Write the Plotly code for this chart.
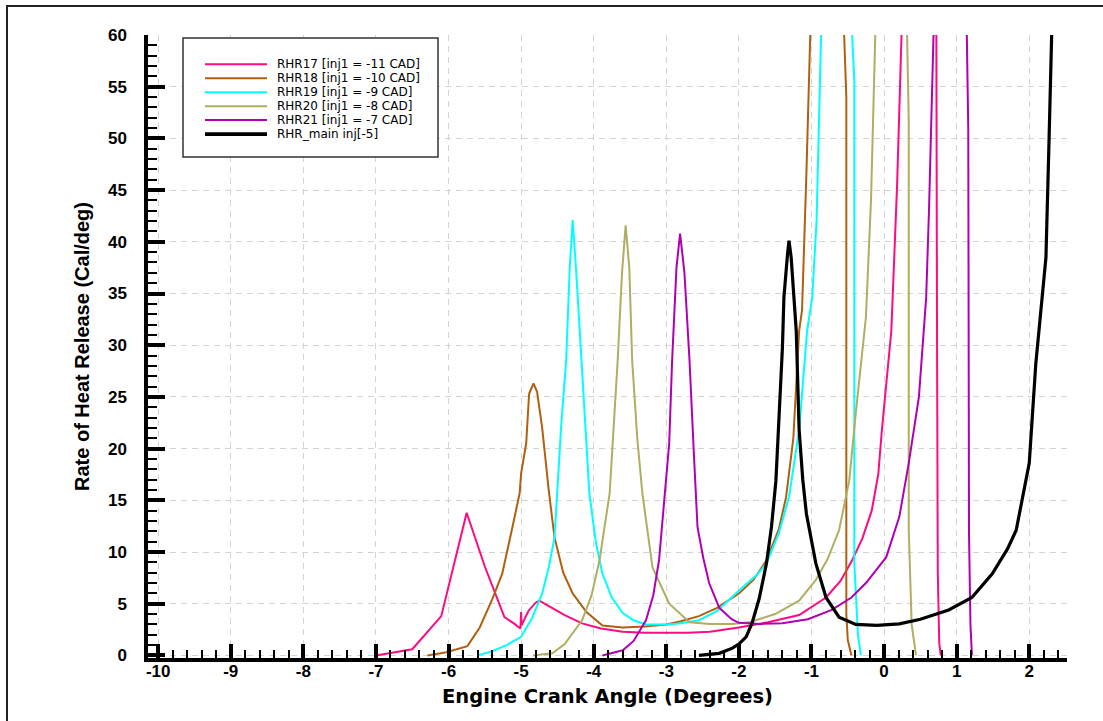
import plotly.graph_objects as go

# Rate of heat release vs crank angle for pilot-injection timing sweep
names = [
    "RHR17 [inj1 = -11 CAD]",
    "RHR18 [inj1 = -10 CAD]",
    "RHR19 [inj1 = -9 CAD]",
    "RHR20 [inj1 = -8 CAD]",
    "RHR21 [inj1 = -7 CAD]",
    "RHR_main inj[-5]",
]
colors = ["#FF0A80", "#B0600F", "#00FFFF", "#B0AE62", "#B000B4", "#000000"]
widths = [2, 2, 2, 2, 2, 3.2]

rhr17_x = [-7.0, -6.5, -6.1, -5.92, -5.75, -5.5, -5.23, -5.1, -5.01, -5.0, -4.995, -4.9, -4.8,
           -4.75, -4.58, -4.4, -4.16, -3.9, -3.6, -3.3, -3.0, -2.7, -2.4, -2.0, -1.6, -1.17,
           -0.8, -0.6, -0.44, -0.3, -0.17, -0.08, -0.03, 0.03, 0.1, 0.18, 0.23, 0.26, 0.45,
           0.69, 0.72, 0.73, 0.74, 0.76, 0.78]
rhr17_y = [0.0, 0.6, 3.8, 9.0, 13.8, 8.6, 3.7, 3.1, 2.6, 4.2, 2.9, 4.3, 5.1,
           5.3, 4.6, 3.9, 3.1, 2.6, 2.3, 2.2, 2.2, 2.2, 2.3, 2.7, 3.2, 3.9,
           5.6, 7.2, 9.2, 11.3, 14.0, 17.5, 21.8, 26.0, 31.4, 45.6, 60.0, 70.0, 110.0,
           70.0, 60.0, 30.0, 8.0, 1.2, 0.0]

rhr18_x = [-6.29, -6.03, -5.74, -5.57, -5.4, -5.26, -5.12, -5.02, -5.0, -4.93, -4.89, -4.83,
           -4.78, -4.71, -4.62, -4.54, -4.42, -4.29, -4.1, -3.88, -3.6, -3.3, -3.0, -2.8,
           -2.55, -2.3, -2.0, -1.8, -1.62, -1.45, -1.35, -1.25, -1.17, -1.13, -1.07, -1.02,
           -1.0, -0.78, -0.56, -0.55, -0.52, -0.52, -0.5, -0.45]
rhr18_y = [0.0, 0.3, 0.9, 2.7, 5.4, 7.9, 12.4, 15.7, 17.6, 20.5, 25.3, 26.3,
           25.5, 22.0, 16.0, 11.4, 8.0, 6.0, 4.2, 2.9, 2.7, 2.8, 3.0, 3.3,
           3.8, 4.6, 6.0, 7.3, 9.2, 12.2, 15.3, 21.0, 31.4, 33.4, 46.6, 60.0,
           66.0, 120.0, 66.0, 60.0, 54.0, 4.0, 1.5, 0.0]

rhr19_x = [-5.6, -5.4, -5.2, -5.0, -4.85, -4.71, -4.62, -4.54, -4.45, -4.38, -4.33, -4.29,
           -4.24, -4.17, -4.11, -4.06, -3.97, -3.88, -3.75, -3.6, -3.45, -3.28, -3.0, -2.8,
           -2.55, -2.3, -1.95, -1.75, -1.62, -1.45, -1.31, -1.17, -1.06, -0.99, -0.93, -0.89,
           -0.88, -0.86, -0.66, -0.46, -0.44, -0.41, -0.41, -0.36, -0.32]
rhr19_y = [0.0, 0.4, 1.0, 1.8, 3.6, 6.0, 8.5, 11.4, 22.0, 28.5, 37.5, 42.1,
           37.0, 28.5, 21.0, 15.7, 10.9, 7.9, 5.6, 4.1, 3.4, 3.0, 3.0, 3.1,
           3.4, 4.3, 6.6, 7.8, 8.9, 11.8, 15.3, 21.8, 31.4, 34.6, 42.0, 55.6,
           60.0, 66.0, 120.0, 66.0, 60.0, 55.6, 8.9, 2.0, 0.0]

rhr20_x = [-4.84, -4.57, -4.4, -4.16, -4.03, -3.92, -3.78, -3.67, -3.61, -3.56, -3.51, -3.47,
           -3.4, -3.33, -3.19, -2.96, -2.68, -2.4, -2.1, -1.86, -1.5, -1.17, -0.94, -0.78,
           -0.62, -0.48, -0.39, -0.3, -0.25, -0.18, -0.14, -0.12, 0.1, 0.3, 0.32, 0.34,
           0.34, 0.38, 0.44]
rhr20_y = [0.0, 0.2, 1.1, 3.4, 5.8, 9.2, 15.7, 28.5, 37.0, 41.6, 37.5, 28.5,
           21.0, 15.7, 8.5, 5.0, 3.2, 3.05, 3.05, 3.2, 4.0, 5.3, 7.3, 9.3,
           12.1, 16.9, 23.4, 29.8, 32.7, 44.0, 60.0, 66.0, 120.0, 66.0, 60.0, 51.7,
           12.1, 3.0, 0.0]

rhr21_x = [-3.88, -3.6, -3.45, -3.28, -3.18, -3.1, -2.96, -2.92, -2.86, -2.81, -2.75, -2.68,
           -2.62, -2.57, -2.49, -2.41, -2.27, -2.1, -2.0, -1.7, -1.4, -1.05, -0.72, -0.45,
           -0.25, 0.03, 0.21, 0.34, 0.48, 0.55, 0.58, 0.62, 0.66, 0.69, 0.71, 0.9,
           1.12, 1.14, 1.16, 1.17, 1.19, 1.21]
rhr21_y = [0.0, 0.5, 1.4, 3.4, 5.8, 9.2, 20.5, 28.5, 37.5, 40.8, 37.0, 28.5,
           19.5, 12.4, 9.4, 7.0, 4.6, 3.5, 3.15, 3.05, 3.1, 3.5, 4.4, 5.6,
           7.0, 9.5, 13.4, 18.6, 25.0, 31.4, 34.6, 43.3, 52.0, 60.0, 66.0, 120.0,
           66.0, 60.0, 50.8, 11.8, 3.0, 0.0]

main_x = [-2.55, -2.27, -2.09, -2.0, -1.9, -1.82, -1.72, -1.62, -1.55, -1.49, -1.4, -1.38,
          -1.33, -1.31, -1.28, -1.26, -1.24, -1.21, -1.17, -1.12, -1.07, -0.94, -0.8, -0.62,
          -0.39, -0.1, 0.21, 0.5, 0.89, 1.21, 1.49, 1.7, 1.82, 2.0, 2.09, 2.16,
          2.23, 2.27, 2.31, 2.33]
main_y = [0.0, 0.2, 0.7, 1.1, 1.8, 3.1, 5.5, 8.9, 12.5, 16.9, 29.8, 34.6,
          38.8, 40.1, 38.5, 36.3, 33.7, 31.4, 21.8, 17.0, 13.7, 8.9, 5.6, 3.7,
          3.0, 2.9, 3.05, 3.5, 4.4, 5.6, 7.9, 10.3, 12.1, 18.6, 28.2, 33.0,
          38.5, 49.1, 60.0, 66.0]

series_x = [rhr17_x, rhr18_x, rhr19_x, rhr20_x, rhr21_x, main_x]
series_y = [rhr17_y, rhr18_y, rhr19_y, rhr20_y, rhr21_y, main_y]

x_ticks = list(range(-10, 3))
y_ticks = list(range(0, 61, 5))

# plot-area geometry in pixels
W, H = 1103, 721
L, R, T, B = 148, 36, 35, 63
PW, PH = W - L - R, H - T - B


def px(x):
    return (x - L) / PW


def py(y):
    return (H - B - y) / PH


fig = go.Figure()
for xs, ys, name, c, w in zip(series_x, series_y, names, colors, widths):
    fig.add_trace(go.Scatter(x=xs, y=ys, mode="lines", name=name,
                             line=dict(color=c, width=w), showlegend=False))

tick_font = dict(family="Liberation Sans", size=17, color="black", weight="bold")

fig.update_layout(
    width=W, height=H,
    margin=dict(l=L, r=R, t=T, b=B),
    paper_bgcolor="white", plot_bgcolor="white",
    xaxis=dict(
        range=[-10.14, 2.52], tickmode="array", tickvals=x_ticks,
        ticktext=[str(v) for v in x_ticks],
        ticks="inside", ticklen=14, tickwidth=3.5, tickcolor="black",
        showline=True, linewidth=3.5, linecolor="black",
        showgrid=True, gridcolor="#d4d4d4", gridwidth=1, griddash="6px,5px",
        zeroline=False, tickfont=tick_font, ticklabelstandoff=-5,
        minor=dict(dtick=0.2, tick0=0, ticks="inside", ticklen=8, tickwidth=1.5,
                   tickcolor="black", showgrid=False),
        title=dict(text="Engine Crank Angle (Degrees)", standoff=10,
                   font=dict(family="DejaVu Sans", size=19.5, color="black", weight="bold")),
    ),
    yaxis=dict(
        range=[-0.25, 60], tickmode="array", tickvals=y_ticks,
        ticktext=[str(v) for v in y_ticks],
        ticks="inside", ticklen=17, tickwidth=3.5, tickcolor="black",
        showline=True, linewidth=3.5, linecolor="black",
        showgrid=True, gridcolor="#d4d4d4", gridwidth=1, griddash="6px,5px",
        zeroline=False, tickfont=tick_font, ticklabelstandoff=14,
        minor=dict(dtick=1, tick0=0, ticks="inside", ticklen=9, tickwidth=1.5,
                   tickcolor="black", showgrid=False),
        title=dict(text="Rate of Heat Release (Cal/deg)", standoff=14,
                   font=dict(family="Liberation Sans", size=20, color="black", weight="bold")),
    ),
)

# outer frame (top and left edges visible)
fig.add_shape(type="rect", xref="paper", yref="paper",
              x0=px(7), x1=px(W + 20), y0=py(H + 20), y1=py(6),
              line=dict(color="#222222", width=2), fillcolor="rgba(0,0,0,0)", layer="above")

# legend box
fig.add_shape(type="rect", xref="paper", yref="paper",
              x0=px(183), x1=px(438), y0=py(157), y1=py(38),
              line=dict(color="#333333", width=1.5), fillcolor="white", layer="above")
row0, row_step = 64.3, 13.95
for i, (name, c, w) in enumerate(zip(names, colors, widths)):
    yy = py(row0 + i * row_step)
    fig.add_shape(type="line", xref="paper", yref="paper",
                  x0=px(205), x1=px(267), y0=yy, y1=yy,
                  line=dict(color=c, width=w + 0.5 if i == 5 else w), layer="above")
    fig.add_annotation(xref="paper", yref="paper", x=px(275), y=yy,
                       xanchor="left", yanchor="middle", showarrow=False, text=name,
                       font=dict(family="DejaVu Sans", size=12, color="black"))

fig.write_html("out.html")
